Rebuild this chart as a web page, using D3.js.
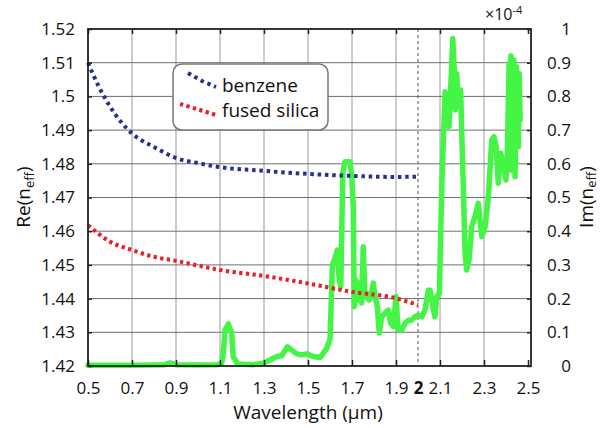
<!DOCTYPE html>
<html>
<head>
<meta charset="utf-8">
<script src="https://cdn.jsdelivr.net/npm/d3@7"></script>
<style>
  body { margin: 0; background: #fff; }
</style>
</head>
<body>
<div id="chart"></div>
<script>
// tick labels
const xTicks = [0.5, 0.7, 0.9, 1.1, 1.3, 1.5, 1.7, 1.9, 2, 2.1, 2.3, 2.5];
const reTicks = [1.42, 1.43, 1.44, 1.45, 1.46, 1.47, 1.48, 1.49, 1.5, 1.51, 1.52];
const imTicks = [0, 0.1, 0.2, 0.3, 0.4, 0.5, 0.6, 0.7, 0.8, 0.9, 1];

// Re(n_eff) benzene
const benzeneWl = [0.5, 0.55, 0.6, 0.7, 0.8, 0.9, 1.0, 1.1, 1.3, 1.5, 1.7, 1.9, 2.0];
const benzeneRe = [1.510, 1.5028, 1.497, 1.489, 1.485, 1.4817, 1.4802, 1.4790, 1.4779, 1.4770, 1.4764, 1.4761, 1.4762];

// Re(n_eff) fused silica
const silicaWl = [0.5, 0.6, 0.7, 0.8, 0.9, 1.0, 1.1, 1.3, 1.5, 1.7, 1.9, 2.0];
const silicaRe = [1.4618, 1.4569, 1.4544, 1.4524, 1.4512, 1.4498, 1.4485, 1.4467, 1.4445, 1.4420, 1.4401, 1.4381];

// Im(n_eff) x1e-4
const imagWl = [0.5, 0.6, 0.7, 0.8, 0.85, 0.873, 0.9, 1.0, 1.09, 1.108, 1.115, 1.123, 1.138, 1.153, 1.16, 1.18, 1.25,
  1.297, 1.327, 1.358, 1.38, 1.406, 1.426, 1.449, 1.471, 1.494, 1.524, 1.555, 1.585, 1.6,
  1.611, 1.623, 1.633, 1.642, 1.649, 1.658, 1.668, 1.691, 1.699, 1.706, 1.71, 1.718, 1.729, 1.736, 1.744, 1.751,
  1.759, 1.767, 1.777, 1.785, 1.797, 1.805, 1.815, 1.824, 1.835, 1.85, 1.865, 1.876, 1.888, 1.9, 1.91,
  1.926, 1.941, 1.956, 1.971, 1.986, 2.001, 2.017, 2.032, 2.047, 2.055, 2.07, 2.077, 2.085, 2.097,
  2.108, 2.123, 2.133, 2.141, 2.149, 2.158, 2.165, 2.17, 2.176, 2.183, 2.194, 2.198, 2.206, 2.214, 2.221,
  2.232, 2.244, 2.259, 2.274, 2.282, 2.29, 2.305, 2.32, 2.335, 2.345, 2.355, 2.365, 2.376, 2.388, 2.4,
  2.406, 2.414, 2.418, 2.422, 2.426, 2.43, 2.436, 2.441, 2.448, 2.456, 2.46, 2.464];
const imagVal = [0.002, 0.002, 0.002, 0.003, 0.004, 0.009, 0.004, 0.003, 0.004, 0.009, 0.038, 0.107, 0.125, 0.098, 0.028, 0.006, 0.004,
  0.008, 0.018, 0.028, 0.03, 0.057, 0.047, 0.036, 0.033, 0.036, 0.028, 0.025, 0.052, 0.08,
  0.30, 0.32, 0.344, 0.255, 0.235, 0.573, 0.606, 0.606, 0.56, 0.47, 0.176, 0.255, 0.196, 0.246, 0.187, 0.354,
  0.206, 0.216, 0.196, 0.206, 0.246, 0.206, 0.176, 0.098, 0.146, 0.157, 0.166, 0.127, 0.117, 0.206, 0.107,
  0.107, 0.127, 0.136, 0.136, 0.146, 0.151, 0.146, 0.166, 0.225, 0.225, 0.166, 0.146, 0.206, 0.216,
  0.532, 0.814, 0.789, 0.71, 0.829, 0.972, 0.878, 0.76, 0.868, 0.77, 0.819, 0.71, 0.532, 0.335, 0.285,
  0.315, 0.413, 0.443, 0.483, 0.433, 0.384, 0.413, 0.502, 0.671, 0.68, 0.651, 0.542, 0.631, 0.601, 0.552,
  0.631, 0.898, 0.60, 0.92, 0.58, 0.91, 0.908, 0.562, 0.888, 0.651, 0.868, 0.73];

const W = 600, H = 428;
const margin = { top: 29, right: 69, bottom: 62, left: 88 };
const width = W - margin.left - margin.right,
      height = H - margin.top - margin.bottom;
const font = "'Open Sans', 'Noto Sans', sans-serif";

const svg = d3.select("#chart")
  .append("svg")
  .attr("width", W)
  .attr("height", H)
  .style("font-family", font);

const g = svg.append("g")
  .attr("transform", `translate(${margin.left},${margin.top})`);

// x runs a little past 2.5, like the original frame
const x = d3.scaleLinear().domain([0.5, 2.5136]).range([0, width]);
const yRe = d3.scaleLinear().domain([1.42, 1.52]).range([height, 0]);
const yIm = d3.scaleLinear().domain([0, 1]).range([height, 0]);

// grid
g.append("g")
  .selectAll("line")
  .data(xTicks.filter(d => d !== 0.5 && d !== 2 && d !== 2.5))
  .join("line")
  .attr("x1", d => x(d)).attr("x2", d => x(d))
  .attr("y1", 0).attr("y2", height)
  .attr("stroke", "#bdbdbd")
  .attr("stroke-width", 1.5);

g.append("g")
  .selectAll("line")
  .data(reTicks.slice(1, -1))
  .join("line")
  .attr("x1", 0).attr("x2", width)
  .attr("y1", d => yRe(d)).attr("y2", d => yRe(d))
  .attr("stroke", "#6e6e6e")
  .attr("stroke-width", 1);

// dashed marker at 2 um
g.append("line")
  .attr("x1", x(2)).attr("x2", x(2))
  .attr("y1", 0).attr("y2", height)
  .attr("stroke", "#555")
  .attr("stroke-width", 1)
  .attr("stroke-dasharray", "3,3");

// imaginary part (right axis)
g.append("path")
  .datum(imagWl.map((w, i) => [w, imagVal[i]]))
  .attr("fill", "none")
  .attr("stroke", "#45f545")
  .attr("stroke-width", 5.5)
  .attr("stroke-linejoin", "round")
  .attr("stroke-linecap", "round")
  .attr("d", d3.line().x(d => x(d[0])).y(d => yIm(d[1])));

// real parts
const reLine = d3.line().x(d => x(d[0])).y(d => yRe(d[1])).curve(d3.curveMonotoneX);

g.append("path")
  .datum(benzeneWl.map((w, i) => [w, benzeneRe[i]]))
  .attr("fill", "none")
  .attr("stroke", "#28308c")
  .attr("stroke-width", 4)
  .attr("stroke-dasharray", "3.5,3.8")
  .attr("d", reLine);

g.append("path")
  .datum(silicaWl.map((w, i) => [w, silicaRe[i]]))
  .attr("fill", "none")
  .attr("stroke", "#e8202a")
  .attr("stroke-width", 4)
  .attr("stroke-dasharray", "3.3,3.4")
  .attr("d", reLine);

// axes
const xAxis = g.append("g")
  .attr("transform", `translate(0,${height})`)
  .call(d3.axisBottom(x).tickValues(xTicks).tickSizeInner(-6).tickSizeOuter(0).tickPadding(16)
    .tickFormat(d => d3.format("")(d)));
xAxis.select(".domain").remove();
xAxis.selectAll("line").attr("stroke", "#222").attr("stroke-width", 1.5);
xAxis.selectAll(".tick").filter(d => d === 2).select("line").remove();
xAxis.selectAll(".tick").filter(d => d === 2).select("text").style("font-weight", "bold");

const topAxis = g.append("g")
  .call(d3.axisTop(x).tickValues(xTicks.filter(d => d !== 2)).tickSizeInner(-5).tickSizeOuter(0).tickFormat(""));
topAxis.select(".domain").remove();
topAxis.selectAll("line").attr("stroke", "#222").attr("stroke-width", 1.5);

const leftAxis = g.append("g")
  .call(d3.axisLeft(yRe).tickValues(reTicks).tickSizeInner(-4).tickSizeOuter(0).tickPadding(13)
    .tickFormat(d => d3.format("")(+d.toFixed(2))));
leftAxis.select(".domain").remove();
leftAxis.selectAll("line").attr("stroke", "#222").attr("stroke-width", 1.5);

const rightAxis = g.append("g")
  .attr("transform", `translate(${width},0)`)
  .call(d3.axisRight(yIm).tickValues(imTicks).tickSizeInner(-4).tickSizeOuter(0).tickPadding(40)
    .tickFormat(d => d3.format("")(+d.toFixed(1))));
rightAxis.select(".domain").remove();
rightAxis.selectAll("line").attr("stroke", "#222").attr("stroke-width", 1.5);
rightAxis.selectAll("text").attr("text-anchor", "end");

svg.selectAll(".tick text")
  .style("font-family", font)
  .style("font-size", "17px")
  .attr("fill", "#111");

// frame
g.append("rect")
  .attr("width", width)
  .attr("height", height)
  .attr("fill", "none")
  .attr("stroke", "#222")
  .attr("stroke-width", 1.8);

// legend
const legend = svg.append("g");
legend.append("rect")
  .attr("x", 173).attr("y", 64)
  .attr("width", 155).attr("height", 66)
  .attr("rx", 9)
  .attr("fill", "#fff")
  .attr("stroke", "#777")
  .attr("stroke-width", 1.5);

legend.append("path")
  .attr("d", d3.line()([[188, 73], [202, 81], [216, 87]]))
  .attr("fill", "none")
  .attr("stroke", "#28308c")
  .attr("stroke-width", 4)
  .attr("stroke-dasharray", "3.5,3.8");
legend.append("path")
  .attr("d", d3.line()([[180, 104], [200, 110], [216, 115]]))
  .attr("fill", "none")
  .attr("stroke", "#e8202a")
  .attr("stroke-width", 4)
  .attr("stroke-dasharray", "3.3,3.4");

legend.append("text")
  .attr("x", 222).attr("y", 92)
  .style("font-size", "19px")
  .attr("fill", "#111")
  .text("benzene");
legend.append("text")
  .attr("x", 222).attr("y", 117)
  .style("font-size", "19px")
  .attr("fill", "#111")
  .text("fused silica");

// axis titles
svg.append("text")
  .attr("x", margin.left + x(1.5))
  .attr("y", 419)
  .attr("text-anchor", "middle")
  .style("font-size", "19px")
  .attr("fill", "#111")
  .text("Wavelength (μm)");

const reTitle = svg.append("text")
  .attr("transform", "translate(30,197) rotate(-90)")
  .attr("text-anchor", "middle")
  .style("font-size", "19px")
  .attr("fill", "#111");
reTitle.append("tspan").text("Re(n");
reTitle.append("tspan").attr("dy", 4).style("font-size", "13px").text("eff");
reTitle.append("tspan").attr("dy", -4).text(")");

const imTitle = svg.append("text")
  .attr("transform", "translate(593,197) rotate(-90)")
  .attr("text-anchor", "middle")
  .style("font-size", "19px")
  .attr("fill", "#111");
imTitle.append("tspan").text("Im(n");
imTitle.append("tspan").attr("dy", 3).style("font-size", "13px").text("eff");
imTitle.append("tspan").attr("dy", -3).text(")");

// exponent for right axis
const expo = svg.append("text")
  .attr("x", 485).attr("y", 20)
  .style("font-size", "16px")
  .attr("fill", "#111");
expo.append("tspan").text("×10");
expo.append("tspan").attr("dy", -6).style("font-size", "11px").text("-4");
</script>
</body>
</html>
